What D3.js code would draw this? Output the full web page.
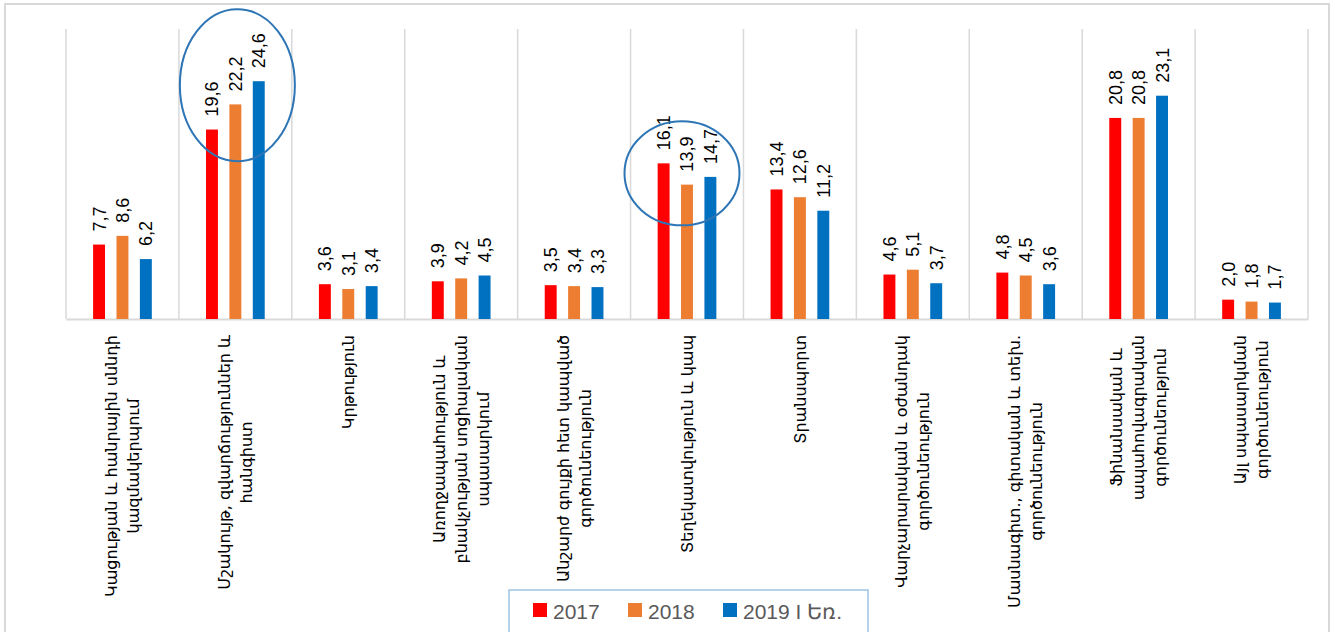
<!DOCTYPE html>
<html lang="hy">
  <head>
    <meta charset="utf-8"/>
    <script src="https://d3js.org/d3.v7.min.js"></script>
    <title>Chart</title>
    <style>
      body { margin: 0; background: #fff; }
      text { font-family: "Liberation Sans", Arial, sans-serif; }
      .cat { font-family: "DejaVu Sans", sans-serif; font-size: 16px; fill: #000; }
    </style>
  </head>
  <body>
    <svg id="svg_main"></svg>

    <script>
      const width = 1335;
      const height = 632;

      // categories, each split into the lines shown under the axis
      let categories = [
        ["Կացության և հանրային սննդի", "կազմակերպում"],
        ["Մշակույթ, զվարճություններ և", "հանգիստ"],
        ["Կրթություն"],
        ["Առողջապահություն և", "բնակչության սոցիալական", "սպասարկում"],
        ["Անշարժ գույքի հետ կապված", "գործունեություն"],
        ["Տեղեկատվություն և կապ"],
        ["Տրանսպորտ"],
        ["Վարչարարական և օժանդակ", "գործունեություն"],
        ["Մասնագիտ., գիտական և տեխ.", "գործունեություն"],
        ["Ֆինանսական և", "ապահովագրական", "գործունեություն"],
        ["Այլ սպասարկման", "գործունեություն"]
      ];

      let seriesNames = ["2017", "2018", "2019 I Եռ."];
      let seriesColors = ["#ff0000", "#ed7d31", "#0070c0"];

      let values2017 = [7.7, 19.6, 3.6, 3.9, 3.5, 16.1, 13.4, 4.6, 4.8, 20.8, 2.0];
      let values2018 = [8.6, 22.2, 3.1, 4.2, 3.4, 13.9, 12.6, 5.1, 4.5, 20.8, 1.8];
      let values2019 = [6.2, 24.6, 3.4, 4.5, 3.3, 14.7, 11.2, 3.7, 3.6, 23.1, 1.7];

      let allValues = [values2017, values2018, values2019];

      // categories that are circled by hand in the picture
      let highlighted = [1, 5];

      let svg = d3.select("#svg_main")
          .attr("width", width)
          .attr("height", height);

      // outer frame
      svg.append("rect")
          .attr("x", 5).attr("y", 4)
          .attr("width", 1324).attr("height", 640)
          .attr("fill", "none")
          .attr("stroke", "#d9d9d9")
          .attr("stroke-width", 2);

      let x0 = d3.scaleBand()
          .domain(d3.range(categories.length))
          .range([66, 1308])
          .padding(0);

      let bw = x0.bandwidth();
      let x1 = d3.scaleBand()
          .domain(d3.range(seriesNames.length))
          .range([bw * 0.24, bw * 0.76])
          .paddingInner(0.49);

      let yScale = d3.scaleLinear()
          .domain([0, 30])
          .range([319, 29]);

      // vertical gridlines between categories
      let bounds = d3.range(categories.length + 1).map(function(i) {
        return i < categories.length ? x0(i) : x0(i - 1) + bw;
      });
      svg.append("g")
          .selectAll("line")
          .data(bounds)
          .enter().append("line")
          .attr("x1", d => d).attr("x2", d => d)
          .attr("y1", yScale(30)).attr("y2", yScale(0))
          .attr("stroke", "#d9d9d9")
          .attr("stroke-width", 1.5);

      // category axis
      let xAxis = d3.axisBottom(x0).tickSize(0).tickFormat("");
      let xAxis_g = svg.append("g")
          .attr("transform", "translate(0," + yScale(0) + ")")
          .call(xAxis);
      xAxis_g.select(".domain")
          .attr("stroke", "#d9d9d9")
          .attr("stroke-width", 2);

      // bars
      let groups = svg.append("g")
          .selectAll("g")
          .data(categories)
          .enter().append("g")
          .attr("transform", (d, i) => "translate(" + x0(i) + ",0)");

      groups.selectAll("rect")
          .data((d, i) => allValues.map((vals, s) => ({s: s, v: vals[i]})))
          .enter().append("rect")
          .attr("x", d => x1(d.s))
          .attr("width", x1.bandwidth())
          .attr("y", d => yScale(d.v))
          .attr("height", d => yScale(0) - yScale(d.v))
          .attr("fill", d => seriesColors[d.s]);

      // value labels, rotated
      groups.selectAll("text.val")
          .data((d, i) => allValues.map((vals, s) => ({s: s, v: vals[i]})))
          .enter().append("text")
          .attr("class", "val")
          .attr("transform", d => "translate(" + (x1(d.s) + x1.bandwidth() / 2) + "," + (yScale(d.v) - 13) + ") rotate(-90)")
          .attr("dy", "0.36em")
          .attr("text-anchor", "start")
          .style("font-size", "18px")
          .style("fill", "#000")
          .text(d => d.v.toFixed(1).replace(".", ","));

      // category labels, rotated, block aligned to the axis
      let lineGap = 22;
      let labelTop = 335;
      categories.forEach(function(lines, i) {
        let cx = x0(i) + bw / 2;
        let g = svg.append("g");
        let texts = lines.map(function(line) {
          return g.append("text")
              .attr("class", "cat")
              .attr("text-anchor", "middle")
              .attr("dy", "0.35em")
              .text(line);
        });
        let maxLen = d3.max(texts, t => t.node().getComputedTextLength());
        let cy = labelTop + maxLen / 2;
        texts.forEach(function(t, k) {
          let lx = cx + (k - (lines.length - 1) / 2) * lineGap;
          t.attr("transform", "translate(" + lx + "," + cy + ") rotate(-90)");
        });
      });

      // highlight ellipses (hand drawn, slightly off centre)
      let ellipseShift = [[2, 4, 76], [-5, 10, 52]];
      highlighted.forEach(function(i, k) {
        let top = d3.max(allValues, vals => vals[i]);
        let cx = x0(i) + bw / 2 + ellipseShift[k][0];
        let cy = yScale(top) + ellipseShift[k][1];
        svg.append("ellipse")
            .attr("cx", cx).attr("cy", cy)
            .attr("rx", 57.5).attr("ry", ellipseShift[k][2])
            .attr("fill", "none")
            .attr("stroke", "#2e75b6")
            .attr("stroke-width", 2);
      });

      // legend
      let legend = svg.append("g");
      legend.append("rect")
          .attr("x", 509).attr("y", 590)
          .attr("width", 359).attr("height", 60)
          .attr("fill", "#fff")
          .attr("stroke", "#9dc3e6")
          .attr("stroke-width", 1.5);

      let legendX = [533, 628, 723];
      seriesNames.forEach(function(name, s) {
        legend.append("rect")
            .attr("x", legendX[s]).attr("y", 603)
            .attr("width", 14).attr("height", 14)
            .attr("fill", seriesColors[s]);
        legend.append("text")
            .attr("x", legendX[s] + 20).attr("y", 619)
            .style("font-size", "21px")
            .style("fill", "#595959")
            .text(name);
      });
    </script>
  </body>
</html>
